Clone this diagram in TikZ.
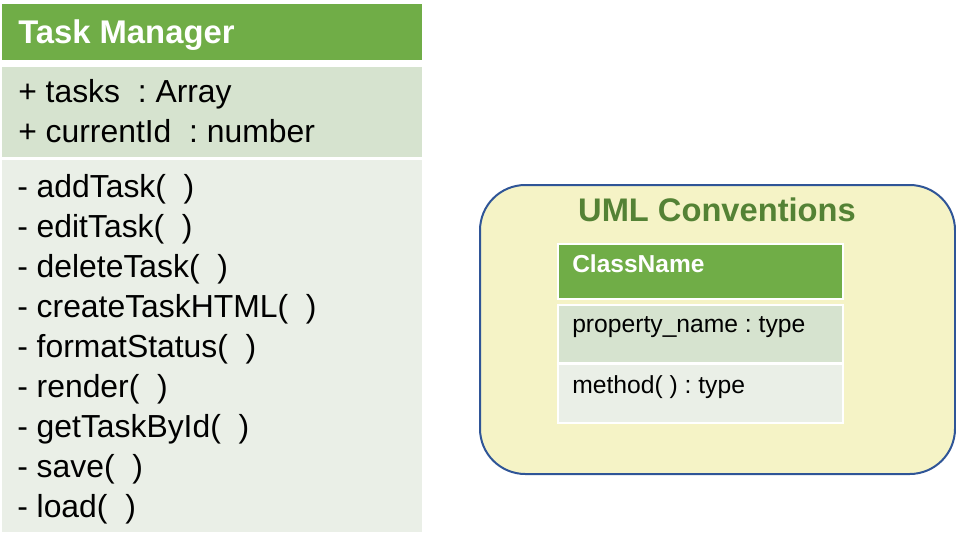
\documentclass[tikz,border=0pt]{standalone}
\usepackage{fontspec}
\setmainfont{Liberation Sans}
\usepackage{tikz}
\frenchspacing

\definecolor{hdrgreen}{HTML}{70AD47}
\definecolor{attrgreen}{HTML}{D6E3CF}
\definecolor{methgreen}{HTML}{EAEFE7}
\definecolor{panelyellow}{HTML}{F5F3C6}
\definecolor{panelblue}{HTML}{2F5597}
\definecolor{titlegreen}{HTML}{548235}

\begin{document}
\begin{tikzpicture}[x=0.75pt, y=-0.75pt,
    box/.style={rectangle, anchor=north west, inner sep=0pt},
    bigtitle/.style={anchor=base west, inner sep=0pt, text=white, font=\fontsize{24.6}{30}\selectfont\bfseries},
    member/.style={anchor=base west, inner sep=0pt, font=\fontsize{23.9}{30}\selectfont},
    smalltitle/.style={anchor=base west, inner sep=0pt, text=white, font=\fontsize{18.4}{22}\selectfont\bfseries},
    smallmember/.style={anchor=base west, inner sep=0pt, font=\fontsize{18.5}{22}\selectfont}]
    \useasboundingbox (0,0) rectangle (956,547);

    \node[box, fill=hdrgreen, minimum width=315pt, minimum height=42pt] (taskHeader) at (2,4) {};
    \node[box, fill=attrgreen, minimum width=315pt, minimum height=67.5pt] (taskAttrs) at (2,67) {};
    \node[box, fill=methgreen, minimum width=315pt, minimum height=279pt] (taskMethods) at (2,160) {};

    \node[bigtitle] (taskTitle) at (18,43) {Task Manager};

    \node[member] (tasks) at (18,102) {+ tasks\ \ : Array};
    \node[member] (currentId) at (18,142) {+ currentId\ \ : number};

    \node[member] (addTask) at (17,197) {- addTask(\ \ )};
    \node[member] (editTask) at (17,237) {- editTask(\ \ )};
    \node[member] (deleteTask) at (17,277) {- deleteTask(\ \ )};
    \node[member] (createTaskHTML) at (17,317) {- createTaskHTML(\ \ )};
    \node[member] (formatStatus) at (17,357) {- formatStatus(\ \ )};
    \node[member] (render) at (17,397) {- render(\ \ )};
    \node[member] (getTaskById) at (17,437) {- getTaskById(\ \ )};
    \node[member] (save) at (17,477) {- save(\ \ )};
    \node[member] (load) at (17,517) {- load(\ \ )};

    \node[box, fill=panelyellow, draw=panelblue, line width=1.5pt, rounded corners=34pt,
        minimum width=356.25pt, minimum height=216.75pt] (umlPanel) at (479,184) {};
    \node[anchor=base, inner sep=0pt, text=titlegreen, font=\fontsize{24.5}{30}\selectfont\bfseries]
        (umlTitle) at (717,221) {UML Conventions};

    \node[box, fill=hdrgreen, draw=white, line width=1.5pt, minimum width=213.75pt, minimum height=41.25pt] (classHeader) at (557,243) {};
    \node[box, fill=attrgreen, draw=white, line width=1.5pt, minimum width=213.75pt, minimum height=43.5pt] (classAttrs) at (557,304) {};
    \node[box, fill=methgreen, draw=white, line width=1.5pt, minimum width=213.75pt, minimum height=44.25pt] (classMethods) at (557,363) {};

    \node[smalltitle] (className) at (572,272) {ClassName};
    \node[smallmember] (propName) at (572,332) {property\_name : type};
    \node[smallmember] (methodName) at (572,393) {method( ) : type};
\end{tikzpicture}
\end{document}
